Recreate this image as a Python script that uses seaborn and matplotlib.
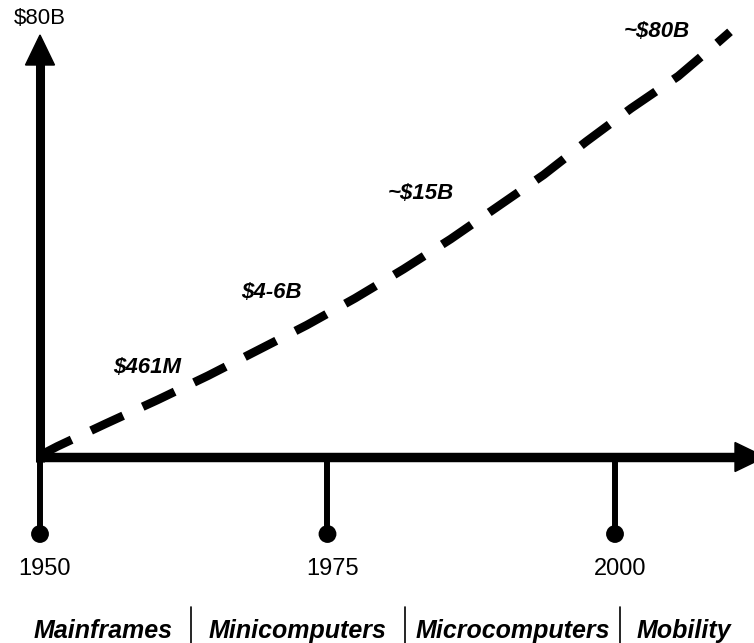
import matplotlib
matplotlib.use("Agg")
import matplotlib.pyplot as plt
import seaborn as sns
import pandas as pd
from matplotlib.patches import Polygon

# ---- data ----
curve_years = [1950.0, 1951.5, 1955.7, 1960.2, 1964.6, 1968.9, 1973.2, 1977.4,
               1981.6, 1985.7, 1993.8, 1997.5, 2001.4, 2005.5, 2008.9, 2010.0]
curve_values = [0.3, 2.0, 6.3, 10.8, 15.4, 20.2, 25.0, 30.1,
                35.6, 41.3, 53.5, 59.8, 66.1, 72.2, 78.5, 80.6]

tick_years = [1950, 1975, 2000]
tick_labels = ["1950", "1975", "2000"]

annot_labels = ["$461M", "$4-6B", "~$15B", "~$80B"]
annot_years = [1959.3, 1970.1, 1983.1, 2003.6]
annot_values = [16.9, 31.2, 50.0, 80.6]

y_top_label = "$80B"
y_top_value = 80

eras = ["Mainframes", "Minicomputers", "Microcomputers", "Mobility"]
era_centers = [1955.5, 1972.4, 1991.1, 2006.0]
era_bounds = [1963.1, 1981.7, 2000.4]

# ---- figure geometry (pixel mapping) ----
W, H = 754, 643
PX_PER_YEAR = 11.5
PX_PER_UNIT = 422 / 80.0
X0_PX, Y0_PX = 40, 457

sns.set_theme(style="white")
plt.rcParams["font.family"] = ["Liberation Sans", "DejaVu Sans"]

fig = plt.figure(figsize=(W / 100, H / 100), dpi=100)
ax = fig.add_axes([0, 0, 1, 1])
ax.set_xlim(1950 - X0_PX / PX_PER_YEAR, 1950 + (W - X0_PX) / PX_PER_YEAR)
ax.set_ylim(-(H - Y0_PX) / PX_PER_UNIT, Y0_PX / PX_PER_UNIT)
ax.axis("off")

def py(p):
    return p / PX_PER_UNIT

def px(p):
    return p / PX_PER_YEAR

# dashed growth curve
df = pd.DataFrame({"year": curve_years, "value": curve_values})
sns.lineplot(data=df, x="year", y="value", ax=ax, color="black", lw=6.2,
             linestyle=(0, (4.1, 2.5)), sort=False, estimator=None, zorder=3)
for l in ax.lines:
    l.set_dash_capstyle("butt")

# x axis arrow
x_head_base = 1950 + px(735 - X0_PX)
ax.plot([1950 - px(4), x_head_base + px(2)], [0, 0], color="black", lw=6.8,
        solid_capstyle="butt", zorder=4)
ax.add_patch(Polygon([(x_head_base, py(14.5)), (x_head_base + px(30), 0),
                      (x_head_base, -py(14.5))], closed=True, color="black", zorder=4))

# y axis arrow
y_head_base = y_top_value - py(30)
ax.plot([1950, 1950], [-py(5), y_head_base + py(2)], color="black", lw=6.5,
        solid_capstyle="butt", zorder=4)
ax.add_patch(Polygon([(1950 - px(14.5), y_head_base), (1950, y_top_value),
                      (1950 + px(14.5), y_head_base)], closed=True, color="black", zorder=4))
ax.text(1950, y_top_value + py(17), y_top_label, ha="center", va="center",
        fontsize=16, color="black", parse_math=False)

# timeline ticks with dots
dot_val = -py(534 - Y0_PX)
for yr, lab in zip(tick_years, tick_labels):
    ax.plot([yr, yr], [0, dot_val], color="black", lw=4.3, zorder=3)
    ax.text(yr + px(5), -py(569 - Y0_PX), lab, ha="center", va="center",
            fontsize=17, color="black")
sns.scatterplot(x=tick_years, y=[dot_val] * len(tick_years), ax=ax, color="black",
                s=165, marker="o", edgecolor="none", zorder=5, legend=False)

# value annotations
for lab, yr, v in zip(annot_labels, annot_years, annot_values):
    ax.text(yr, v, lab, ha="center", va="center", fontsize=16, style="italic",
            fontweight="bold", color="black", parse_math=False)

# era labels
era_y = -py(631 - Y0_PX)
for name, c in zip(eras, era_centers):
    ax.text(c, era_y, name, ha="center", va="center", fontsize=18,
            style="italic", fontweight="bold", color="black")
for b in era_bounds:
    ax.plot([b, b], [-py(607 - Y0_PX), -py(H - Y0_PX + 5)], color="black", lw=1.2)

fig.savefig("out.png", dpi=100)
